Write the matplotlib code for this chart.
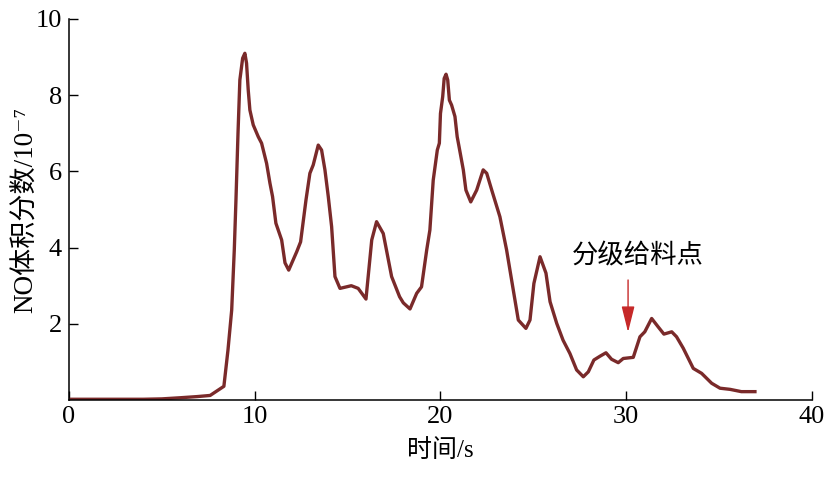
import matplotlib
matplotlib.use("Agg")
import matplotlib.pyplot as plt

plt.rcParams['font.family'] = ['Liberation Serif', 'Noto Sans CJK SC', 'DejaVu Serif']

# time (s) and NO volume fraction (1e-7)
time_s = [0.0, 2.0, 4.0, 5.0, 6.0, 6.9, 7.6, 8.34, 8.56, 8.76, 8.9, 8.99, 9.1, 9.2,
          9.35, 9.47, 9.56, 9.65, 9.74, 9.92, 10.19, 10.37, 10.64, 10.82, 10.96, 11.14,
          11.45, 11.63, 11.83, 12.26, 12.47, 12.76, 12.97, 13.15, 13.42, 13.6, 13.78,
          13.96, 14.14, 14.32, 14.59, 15.2, 15.57, 15.99, 16.3, 16.56, 16.92, 17.37,
          17.8, 18.0, 18.36, 18.72, 18.98, 19.26, 19.43, 19.61, 19.83, 19.94, 20.0,
          20.12, 20.2, 20.3, 20.39, 20.48, 20.6, 20.78, 20.9, 21.0, 21.23, 21.37,
          21.63, 21.95, 22.3, 22.49, 22.76, 23.2, 23.56, 23.83, 24.19, 24.6, 24.82,
          25.03, 25.36, 25.68, 25.9, 26.26, 26.6, 26.97, 27.33, 27.69, 27.96, 28.26,
          28.59, 28.91, 29.21, 29.57, 29.84, 30.38, 30.74, 31.0, 31.37, 31.72, 32.03,
          32.45, 32.71, 33.07, 33.61, 34.06, 34.6, 35.05, 35.59, 36.2, 36.93]
no_frac = [0.02, 0.02, 0.02, 0.03, 0.06, 0.09, 0.12, 0.36, 1.31, 2.36, 3.94, 5.25, 7.0, 8.4,
           8.97, 9.1, 8.84, 8.14, 7.61, 7.22, 6.91, 6.74, 6.21, 5.69, 5.34, 4.64,
           4.2, 3.6, 3.41, 3.89, 4.15, 5.25, 5.95, 6.17, 6.69, 6.56, 6.04,
           5.34, 4.55, 3.24, 2.93, 3.0, 2.93, 2.65, 4.2, 4.68, 4.37, 3.24,
           2.71, 2.55, 2.39, 2.8, 2.97, 3.94, 4.46, 5.77, 6.56, 6.74, 7.52,
           7.96, 8.44, 8.55, 8.4, 7.87, 7.74, 7.44, 6.91, 6.65, 6.04, 5.51,
           5.2, 5.51, 6.04, 5.95, 5.51, 4.81, 3.94, 3.15, 2.1, 1.88, 2.1,
           3.06, 3.76, 3.33, 2.58, 2.01, 1.57, 1.22, 0.79, 0.61, 0.74, 1.05,
           1.15, 1.24, 1.07, 0.98, 1.09, 1.12, 1.66, 1.79, 2.14, 1.92, 1.73,
           1.79, 1.66, 1.36, 0.83, 0.70, 0.44, 0.31, 0.28, 0.22, 0.22]

x_ticks = [0, 10, 20, 30, 40]
y_ticks = [2, 4, 6, 8, 10]

feed_t = 30.1
feed_label = '分级给料点'

fig = plt.figure(figsize=(8.26, 4.87), dpi=100)
ax = fig.add_axes([0.0835, 0.1786, 0.8995, 0.7824])

ax.plot(time_s, no_frac, color='#7a2a2a', lw=2.4)

ax.set_xlim(0, 40)
ax.set_ylim(0, 10)
ax.set_xticks(x_ticks)
ax.set_yticks(y_ticks)
ax.spines['top'].set_visible(False)
ax.spines['right'].set_visible(False)
for s in ['left', 'bottom']:
    ax.spines[s].set_linewidth(1.1)
ax.tick_params(direction='in', length=6.5, width=1, labelsize=19)
ax.tick_params(axis='x', pad=4)
ax.tick_params(axis='y', pad=5)

ax.set_xlabel('时间/s', fontsize=18, labelpad=8)
ax.set_ylabel('NO体积分数/10⁻⁷', fontsize=19.5)
ax.yaxis.set_label_coords(-0.04, 0.5)

ax.annotate('', xy=(feed_t, 1.78), xytext=(feed_t, 3.15),
            arrowprops=dict(arrowstyle='-|>,head_length=0.8,head_width=0.2',
                            color='#c62828', lw=1, mutation_scale=20,
                            shrinkA=0, shrinkB=0))
ax.text(30.6, 3.78, feed_label, ha='center', va='center', fontsize=19)

fig.savefig('out.png', dpi=100)
